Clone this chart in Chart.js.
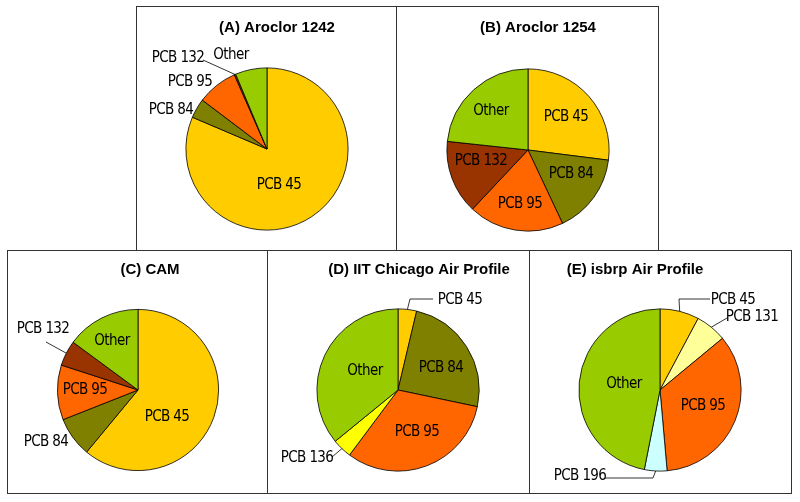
<!DOCTYPE html>
<html>
<head>
<meta charset="utf-8">
<script src="https://cdn.jsdelivr.net/npm/chart.js@4.4.0/dist/chart.umd.min.js"></script>
<style>
  body { margin: 0; background: #fff; }
  #page { position: relative; width: 800px; height: 502px; overflow: hidden; }
  .box { position: absolute; border: 1px solid #333; box-sizing: border-box; }
  canvas { position: absolute; }
</style>
</head>
<body>
<div id="page"></div>
<script>
// ---- data ----
var titles = ['(A) Aroclor 1242', '(B) Aroclor 1254', '(C) CAM', '(D) IIT Chicago Air Profile', '(E) isbrp Air Profile'];

var categoriesA = ['PCB 45', 'PCB 84', 'PCB 95', 'PCB 132', 'Other'];
var valuesA = [81.4, 3.9, 8.1, 0.3, 6.3];

var categoriesB = ['PCB 45', 'PCB 84', 'PCB 95', 'PCB 132', 'Other'];
var valuesB = [27.0, 16.0, 19.0, 14.7, 23.3];

var categoriesC = ['PCB 45', 'PCB 84', 'PCB 95', 'PCB 132', 'Other'];
var valuesC = [61.0, 8.0, 11.0, 5.1, 14.9];

var categoriesD = ['PCB 45', 'PCB 84', 'PCB 95', 'PCB 136', 'Other'];
var valuesD = [3.7, 24.6, 31.9, 3.9, 35.9];

var categoriesE = ['PCB 45', 'PCB 131', 'PCB 95', 'PCB 196', 'Other'];
var valuesE = [7.8, 6.2, 34.6, 4.5, 46.9];

// ---- styles / layout ----
var colors = {
    'PCB 45': '#FFCC00',
    'PCB 84': '#808000',
    'PCB 95': '#FF6600',
    'PCB 132': '#993300',
    'PCB 136': '#FFFF00',
    'PCB 131': '#FFFF99',
    'PCB 196': '#CCFFFF',
    'Other': '#99CC00'
};

// box: outer border [x, y, w, h]; pie: centre and radius; labels: offsets from pie centre
var layouts = [
    { box: [136, 6, 261, 245], cx: 267, cy: 149, r: 81, tx: 277, ty: 28,
      labels: [[12, 36], [-96, -39], [-77, -67], [-89, -91], [-36, -94]],
      leaders: { 3: [[-64, -89]] } },
    { box: [396, 6, 263, 245], cx: 528, cy: 150, r: 81, tx: 538, ty: 28,
      labels: [[38, -33], [43, 24], [-8, 54], [-47, 11], [-37, -39]],
      leaders: {} },
    { box: [7, 250, 261, 244], cx: 138, cy: 390, r: 80.5, tx: 150, ty: 270,
      labels: [[29, 27], [-92, 52], [-53, 0], [-95, -61], [-26, -49]],
      leaders: { 3: [[-92, -48]] } },
    { box: [267, 250, 263, 244], cx: 398, cy: 390, r: 81, tx: 419, ty: 270,
      labels: [[62, -90], [43, -22], [19, 42], [-91, 68], [-33, -19]],
      leaders: { 0: [[12, -91], [35, -91]], 3: [[-66, 67]] } },
    { box: [529, 250, 263, 244], cx: 660, cy: 390, r: 81, tx: 635, ty: 270,
      labels: [[73, -90], [92, -73], [43, 16], [-80, 86], [-36, -6]],
      leaders: { 0: [[19, -91], [50, -91]], 1: [[67, -72]], 3: [[-7, 88], [-55, 88]] } }
];

var series = [
    [categoriesA, valuesA],
    [categoriesB, valuesB],
    [categoriesC, valuesC],
    [categoriesD, valuesD],
    [categoriesE, valuesE]
];

var labelFont = '15px "DejaVu Sans Condensed", "DejaVu Sans", sans-serif';
var titleFont = 'bold 15px "Liberation Sans", Arial, sans-serif';

var pieLabels = {
    id: 'pieLabels',
    afterDatasetsDraw: function (chart, args, opts) {
        var L = opts.layout;
        var ox = L.box[0], oy = L.box[1];
        var ctx = chart.ctx;
        var arcs = chart.getDatasetMeta(0).data;
        ctx.save();
        ctx.fillStyle = '#000';
        ctx.strokeStyle = '#000';
        ctx.lineWidth = 0.8;
        arcs.forEach(function (arc, i) {
            var p = arc.getProps(['x', 'y', 'startAngle', 'endAngle', 'outerRadius'], true);
            var mid = (p.startAngle + p.endAngle) / 2;
            var pts = L.leaders[i];
            if (pts) {
                ctx.beginPath();
                ctx.moveTo(p.x + p.outerRadius * Math.cos(mid), p.y + p.outerRadius * Math.sin(mid));
                pts.forEach(function (q) { ctx.lineTo(p.x + q[0], p.y + q[1]); });
                ctx.stroke();
            }
            var off = L.labels[i];
            ctx.font = labelFont;
            ctx.letterSpacing = '-0.6px';
            ctx.textAlign = 'center';
            ctx.textBaseline = 'middle';
            ctx.fillText(chart.data.labels[i], p.x + off[0], p.y + off[1]);
        });
        ctx.font = titleFont;
        ctx.letterSpacing = '0px';
        ctx.textAlign = 'center';
        ctx.textBaseline = 'middle';
        ctx.fillText(opts.title, L.tx - ox, L.ty - oy);
        ctx.restore();
    }
};

var page = document.getElementById('page');

layouts.forEach(function (L, k) {
    var b = L.box;
    var div = document.createElement('div');
    div.className = 'box';
    div.style.left = b[0] + 'px';
    div.style.top = b[1] + 'px';
    div.style.width = b[2] + 'px';
    div.style.height = b[3] + 'px';
    page.appendChild(div);

    var cv = document.createElement('canvas');
    cv.width = b[2];
    cv.height = b[3];
    cv.style.left = b[0] + 'px';
    cv.style.top = b[1] + 'px';
    cv.style.width = b[2] + 'px';
    cv.style.height = b[3] + 'px';
    page.appendChild(cv);

    var cats = series[k][0], vals = series[k][1];
    var rr = L.r + 0.5;
    new Chart(cv.getContext('2d'), {
        type: 'pie',
        data: {
            labels: cats,
            datasets: [{
                data: vals,
                backgroundColor: cats.map(function (c) { return colors[c]; }),
                borderColor: '#000',
                borderWidth: 0.8
            }]
        },
        options: {
            responsive: false,
            animation: false,
            events: [],
            layout: {
                padding: {
                    left: L.cx - rr - b[0],
                    right: b[0] + b[2] - (L.cx + rr),
                    top: L.cy - rr - b[1],
                    bottom: b[1] + b[3] - (L.cy + rr)
                }
            },
            plugins: {
                legend: { display: false },
                tooltip: { enabled: false },
                pieLabels: { layout: L, title: titles[k] }
            }
        },
        plugins: [pieLabels]
    });
});
</script>
</body>
</html>
